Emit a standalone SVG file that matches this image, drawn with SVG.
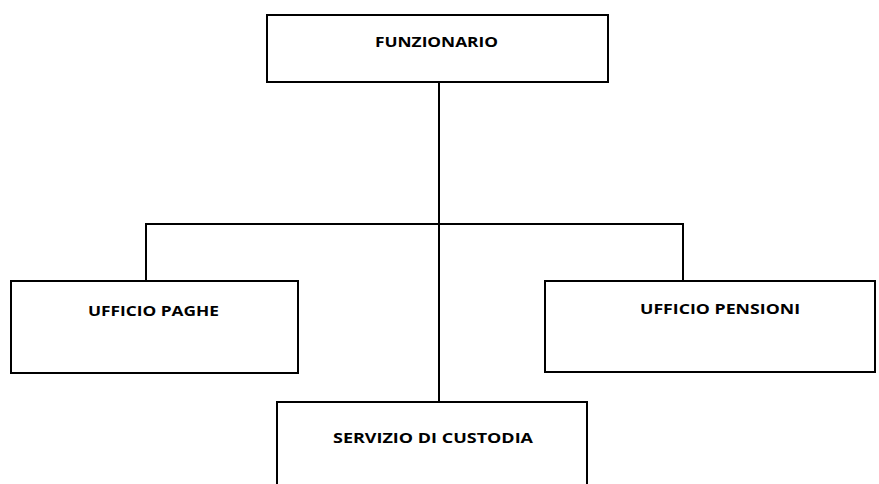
<svg xmlns="http://www.w3.org/2000/svg" width="879" height="484" viewBox="0 0 879 484">
<style>
.box{fill:#fff;stroke:#000;stroke-width:2}
.lbl{font-family:"Open Sans","Liberation Sans",sans-serif;font-weight:bold;font-size:14.5px;fill:#000}
.conn{stroke:#000;stroke-width:2;fill:none}
</style>
<rect width="879" height="484" fill="#fff"/>
<g id="connectors">
<line class="conn" x1="439" y1="82" x2="439" y2="402"/>
<polyline class="conn" points="146,281 146,224 683,224 683,281"/>
</g>
<g id="funzionario">
<rect class="box" x="267" y="15" width="341" height="67"/>
<text class="lbl" x="375" y="47" textLength="123" lengthAdjust="spacingAndGlyphs">FUNZIONARIO</text>
</g>
<g id="ufficio-paghe">
<rect class="box" x="11" y="281" width="287" height="92"/>
<text class="lbl" x="88" y="316" textLength="131" lengthAdjust="spacingAndGlyphs">UFFICIO PAGHE</text>
</g>
<g id="ufficio-pensioni">
<rect class="box" x="545" y="281" width="330" height="91"/>
<text class="lbl" x="640" y="314" textLength="160" lengthAdjust="spacingAndGlyphs">UFFICIO PENSIONI</text>
</g>
<g id="servizio-custodia">
<rect class="box" x="277" y="402" width="310" height="100"/>
<text class="lbl" x="333" y="443" textLength="200" lengthAdjust="spacingAndGlyphs">SERVIZIO DI CUSTODIA</text>
</g>
</svg>
